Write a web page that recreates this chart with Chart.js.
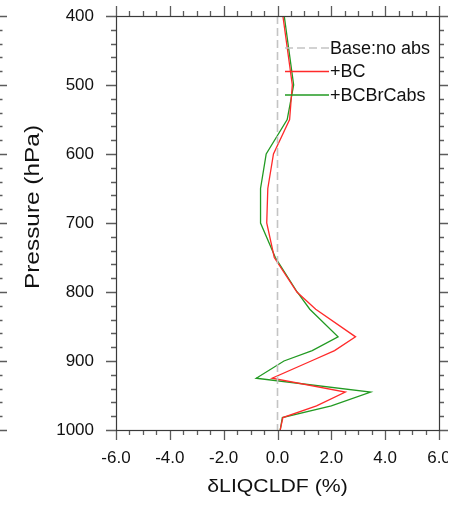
<!DOCTYPE html>
<html>
<head>
<meta charset="utf-8">
<script src="https://cdn.jsdelivr.net/npm/chart.js@4/dist/chart.umd.min.js"></script>
<style>
    html, body { margin: 0; padding: 0; background: #fff; }
    #profile { display: block; }
</style>
</head>
<body>
<canvas id="profile" width="464" height="518"></canvas>
<script>
// pressure levels (hPa) and liquid cloud fraction change (%)
const pressureLevels = [400, 500, 550, 600, 650, 700, 750, 800, 825, 865, 885, 900, 925, 945, 965, 982, 1000];
const bcValues = [0.2, 0.55, 0.45, -0.15, -0.36, -0.40, -0.12, 0.72, 1.42, 2.90, 2.12, 1.25, -0.2, 2.52, 1.45, 0.2, 0.1];
const bcbrcValues = [0.25, 0.6, 0.36, -0.42, -0.63, -0.63, -0.08, 0.73, 1.2, 2.25, 1.29, 0.24, -0.79, 3.46, 2.0, 0.18, 0.1];
const baseLevels = [400, 1000];
const baseValues = [0, 0];

const seriesNames = ['Base:no abs', '+BC', '+BCBrCabs'];
const seriesColors = ['#c4c4c4', '#ff2a2a', '#229a22'];

const xTitle = 'δLIQCLDF (%)';
const yTitle = 'Pressure (hPa)';

const FONT = "'Liberation Sans', Arial, Helvetica, sans-serif";

const toPoints = (xs, ys) => xs.map((x, i) => ({x: x, y: ys[i]}));

// fixed axis box, no extra room for overhanging labels
const fixScale = (size) => (scale) => {
    if (scale.isHorizontal()) scale.height = size; else scale.width = size;
    scale.paddingTop = 0;
    scale.paddingBottom = 0;
    scale.paddingLeft = 0;
    scale.paddingRight = 0;
};

// wide-set title text, stretched along its baseline
function drawTitle(ctx, text, x, y, size, stretch, angle) {
    ctx.save();
    ctx.translate(x, y);
    ctx.rotate(angle);
    ctx.scale(stretch, 1);
    ctx.font = size + 'px ' + FONT;
    ctx.fillStyle = '#111';
    ctx.textAlign = 'center';
    ctx.textBaseline = 'middle';
    ctx.fillText(text, 0, 0);
    ctx.restore();
}

// frame, outward major/minor ticks on all four sides, titles, inline legend
const framePlugin = {
    id: 'frameTicks',
    afterDraw(chart) {
        const ctx = chart.ctx;
        const a = chart.chartArea;
        const xs = chart.scales.x;
        const ys = chart.scales.y;
        ctx.save();

        ctx.strokeStyle = '#5c5c5c';
        ctx.lineWidth = 1.3;
        ctx.beginPath();
        for (let v = -6; v <= 6.001; v += 0.5) {
            const px = Math.round(xs.getPixelForValue(v)) + 0.5;
            const len = Math.abs(v % 2) < 0.01 ? 10 : 5;
            ctx.moveTo(px, a.bottom); ctx.lineTo(px, a.bottom + len);
            ctx.moveTo(px, a.top); ctx.lineTo(px, a.top - len);
        }
        for (let p = 400; p <= 1000; p += 20) {
            const py = Math.round(ys.getPixelForValue(p)) + 0.5;
            const len = p % 100 === 0 ? 10 : 5;
            ctx.moveTo(a.left, py); ctx.lineTo(a.left - len, py);
            ctx.moveTo(a.right, py); ctx.lineTo(a.right + len, py);
            // right-hand ticks of the neighbouring panel
            ctx.moveTo(0, py); ctx.lineTo(p % 100 === 0 ? 7 : 2.5, py);
        }
        ctx.stroke();

        ctx.strokeStyle = '#3a3a3a';
        ctx.lineWidth = 1.2;
        ctx.strokeRect(Math.round(a.left) + 0.5, Math.round(a.top) + 0.5,
            Math.round(a.right - a.left), Math.round(a.bottom - a.top));

        drawTitle(ctx, xTitle, (a.left + a.right) / 2, 487, 18, 1.18, 0);
        drawTitle(ctx, yTitle, 33, 207, 20, 1.22, -Math.PI / 2);

        // legend
        ctx.font = '18px ' + FONT;
        ctx.textBaseline = 'middle';
        ctx.textAlign = 'left';
        chart.data.datasets.forEach((ds, i) => {
            const y = 48 + i * 23.5;
            ctx.strokeStyle = ds.borderColor;
            ctx.lineWidth = ds.borderWidth;
            ctx.setLineDash(ds.borderDash || []);
            ctx.beginPath();
            ctx.moveTo(285, y);
            ctx.lineTo(329, y);
            ctx.stroke();
            ctx.setLineDash([]);
            ctx.fillStyle = '#111';
            ctx.fillText(ds.label, 330, y + 1);
        });

        // figure is trimmed on the right
        ctx.fillStyle = '#fff';
        ctx.fillRect(448, 0, 16, chart.height);
        ctx.restore();
    }
};

new Chart(document.getElementById('profile'), {
    type: 'scatter',
    data: {
        datasets: [
            {
                label: seriesNames[0],
                data: toPoints(baseValues, baseLevels),
                borderColor: seriesColors[0],
                borderDash: [8, 4],
                borderWidth: 1.6,
            },
            {
                label: seriesNames[1],
                data: toPoints(bcValues, pressureLevels),
                borderColor: seriesColors[1],
                borderWidth: 1.3,
            },
            {
                label: seriesNames[2],
                data: toPoints(bcbrcValues, pressureLevels),
                borderColor: seriesColors[2],
                borderWidth: 1.3,
            },
        ]
    },
    options: {
        responsive: false,
        animation: false,
        devicePixelRatio: 1,
        showLine: true,
        layout: {padding: {top: 16, right: 25, bottom: 0, left: 0}},
        elements: {
            point: {radius: 0, hoverRadius: 0},
            line: {tension: 0, fill: false},
        },
        plugins: {
            legend: {display: false},
            tooltip: {enabled: false},
        },
        scales: {
            x: {
                type: 'linear',
                min: -6,
                max: 6,
                grid: {display: false, drawTicks: false},
                border: {display: false},
                ticks: {
                    stepSize: 2,
                    padding: 18,
                    color: '#111',
                    font: {family: FONT, size: 17},
                    maxRotation: 0,
                    callback: (v) => v.toFixed(1),
                },
                afterFit: fixScale(88),
            },
            y: {
                type: 'linear',
                reverse: true,
                min: 400,
                max: 1000,
                grid: {display: false, drawTicks: false},
                border: {display: false},
                ticks: {
                    stepSize: 100,
                    padding: 22,
                    color: '#111',
                    font: {family: FONT, size: 17},
                    callback: (v) => String(v),
                },
                afterFit: fixScale(116),
            },
        },
    },
    plugins: [framePlugin],
});
</script>
</body>
</html>
